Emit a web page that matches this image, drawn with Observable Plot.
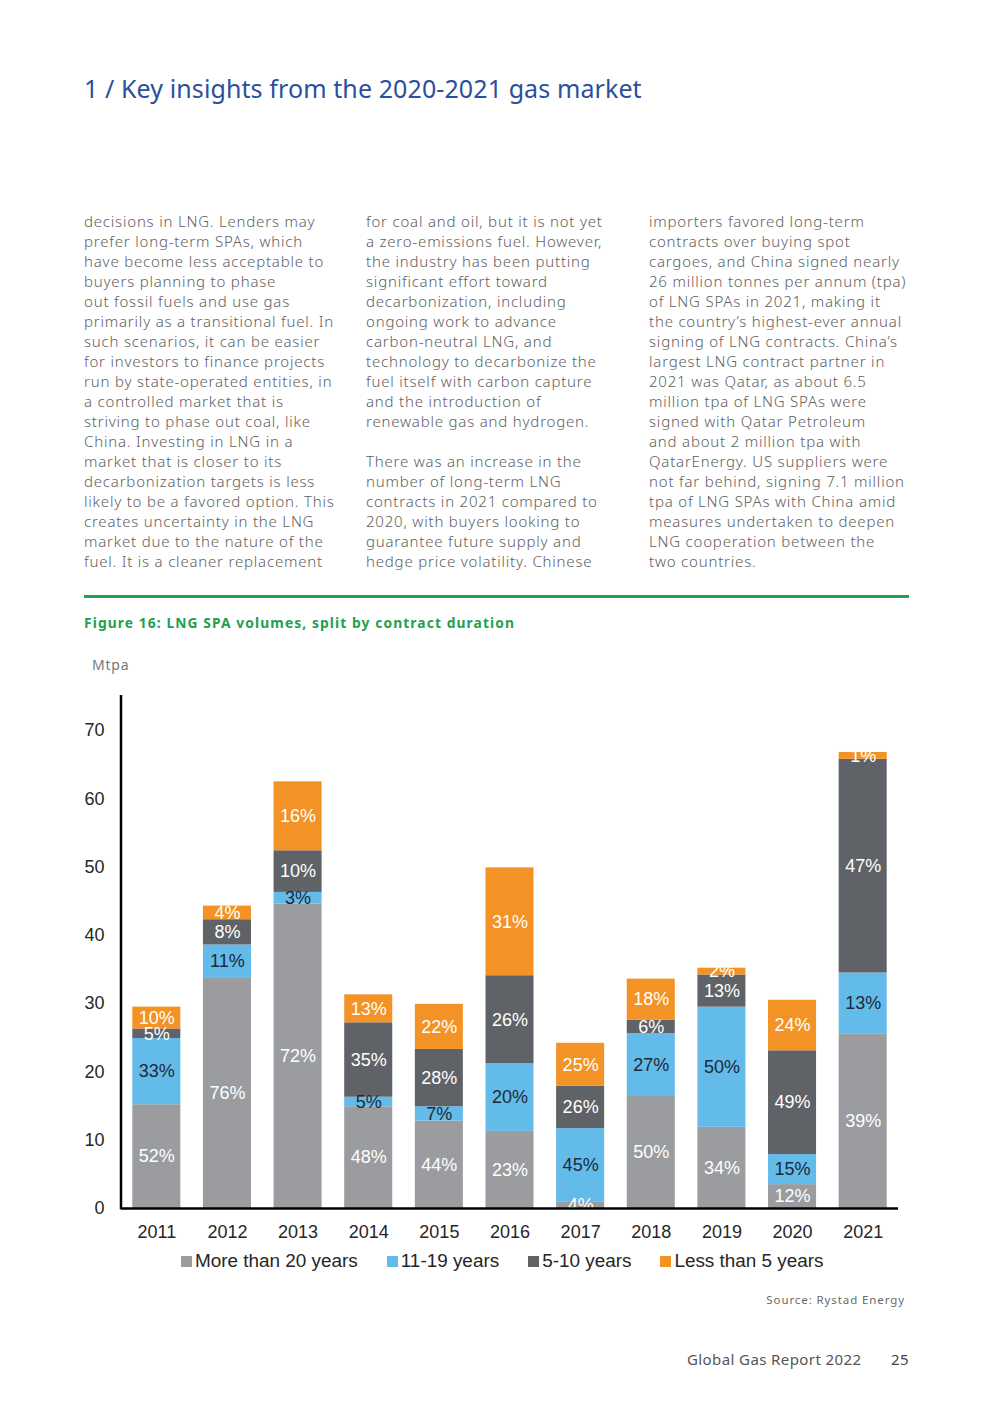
<!DOCTYPE html>
<html>
<head>
<meta charset="utf-8">
<script src="https://cdn.jsdelivr.net/npm/d3@7"></script>
<script src="https://cdn.jsdelivr.net/npm/@observablehq/plot@0.6"></script>
<style>
  html, body { margin: 0; padding: 0; background: #fff; }
  #page { position: relative; width: 987px; height: 1403px; overflow: hidden; background: #fff; }
  .abs { position: absolute; }
  #title { left: 84px; top: 73px; font-family: "Noto Sans", sans-serif; font-size: 25px; line-height: 30px; color: #2c4f9c; letter-spacing: 0.1px; white-space: nowrap; }
  .col { top: 211px; width: 275px; font-family: "Noto Sans", sans-serif; font-size: 15px; line-height: 20px; color: #616161; letter-spacing: 0.8px; white-space: pre; font-weight: 300; }
  #rule { left: 84px; top: 595px; width: 825px; height: 3px; background: #21a452; }
  #caption { left: 84px; top: 613px; font-family: "Noto Sans", sans-serif; font-weight: 700; font-size: 13.8px; line-height: 20px; color: #1f9f4f; letter-spacing: 1.1px; white-space: nowrap; }
  #unit { left: 92px; top: 656px; font-family: "Noto Sans", sans-serif; font-size: 14px; line-height: 18px; color: #777; letter-spacing: 0.8px; }
  #chart { left: 0; top: 680px; }
  #legend { left: 181px; top: 1249px; display: flex; gap: 29px; font-family: "Liberation Sans", Arial, sans-serif; font-size: 18.9px; line-height: 24px; color: #262626; white-space: nowrap; }
  #legend .item { display: flex; align-items: center; }
  #legend .sw { width: 11px; height: 11px; margin-right: 3px; }
  #source { right: 82px; top: 1292px; font-family: "Noto Sans", sans-serif; font-size: 11.5px; line-height: 16px; color: #6a6a6a; letter-spacing: 0.9px; }
  #footer { left: 687px; top: 1349px; font-family: "Noto Sans", sans-serif; font-size: 15px; line-height: 20px; color: #555; letter-spacing: 0.4px; white-space: nowrap; }
  #pageno { left: 891px; top: 1349px; font-family: "Noto Sans", sans-serif; font-size: 15px; line-height: 20px; color: #444; letter-spacing: 0.4px; }
</style>
</head>
<body>
<div id="page">
  <div id="title" class="abs">1 / Key insights from the 2020-2021 gas market</div>
  <div class="abs col" style="left:84px">decisions in LNG. Lenders may
prefer long-term SPAs, which
have become less acceptable to
buyers planning to phase
out fossil fuels and use gas
primarily as a transitional fuel. In
such scenarios, it can be easier
for investors to finance projects
run by state-operated entities, in
a controlled market that is
striving to phase out coal, like
China. Investing in LNG in a
market that is closer to its
decarbonization targets is less
likely to be a favored option. This
creates uncertainty in the LNG
market due to the nature of the
fuel. It is a cleaner replacement</div>
  <div class="abs col" style="left:366px">for coal and oil, but it is not yet
a zero-emissions fuel. However,
the industry has been putting
significant effort toward
decarbonization, including
ongoing work to advance
carbon-neutral LNG, and
technology to decarbonize the
fuel itself with carbon capture
and the introduction of
renewable gas and hydrogen.

There was an increase in the
number of long-term LNG
contracts in 2021 compared to
2020, with buyers looking to
guarantee future supply and
hedge price volatility. Chinese</div>
  <div class="abs col" style="left:649px">importers favored long-term
contracts over buying spot
cargoes, and China signed nearly
26 million tonnes per annum (tpa)
of LNG SPAs in 2021, making it
the country’s highest-ever annual
signing of LNG contracts. China’s
largest LNG contract partner in
2021 was Qatar, as about 6.5
million tpa of LNG SPAs were
signed with Qatar Petroleum
and about 2 million tpa with
QatarEnergy. US suppliers were
not far behind, signing 7.1 million
tpa of LNG SPAs with China amid
measures undertaken to deepen
LNG cooperation between the
two countries.</div>
  <div id="rule" class="abs"></div>
  <div id="caption" class="abs">Figure 16: LNG SPA volumes, split by contract duration</div>
  <div id="unit" class="abs">Mtpa</div>
  <div id="chart" class="abs"></div>
  <div id="legend" class="abs"></div>
  <div id="source" class="abs">Source: Rystad Energy</div>
  <div id="footer" class="abs">Global Gas Report 2022</div>
  <div id="pageno" class="abs">25</div>
</div>
<script>
// ---- data (Mtpa) ----
const years = ["2011","2012","2013","2014","2015","2016","2017","2018","2019","2020","2021"];
const series = ["More than 20 years","11-19 years","5-10 years","Less than 5 years"];
const colors = ["#9a9c9f","#63bbea","#5f6267","#f39325"];

const over20  = [15.2, 33.7, 44.6, 14.9, 12.8, 11.3,  0.9, 16.4, 11.9,  3.5, 25.6];
const y11to19 = [ 9.7,  4.9,  1.7,  1.4,  2.1,  9.9, 10.8,  9.2, 17.6,  4.4,  8.9];
const y5to10  = [ 1.4,  3.7,  6.1, 10.9,  8.4, 12.9,  6.2,  2.0,  4.7, 15.2, 31.3];
const under5  = [ 3.2,  2.0, 10.1,  4.1,  6.6, 15.8,  6.3,  6.0,  1.0,  7.4,  1.0];

const lblOver20  = ["52%","76%","72%","48%","44%","23%","4%","50%","34%","12%","39%"];
const lbl11to19  = ["33%","11%","3%","5%","7%","20%","45%","27%","50%","15%","13%"];
const lbl5to10   = ["5%","8%","10%","35%","28%","26%","26%","6%","13%","49%","47%"];
const lblUnder5  = ["10%","4%","16%","13%","22%","31%","25%","18%","2%","24%","1%"];

const yTicks = [0, 10, 20, 30, 40, 50, 60, 70];

// ---- table built from arrays ----
const values = [over20, y11to19, y5to10, under5];
const labels = [lblOver20, lbl11to19, lbl5to10, lblUnder5];
const data = years.flatMap((yr, i) => series.map((s, k) => ({
  year: yr, series: s, value: values[k][i], label: labels[k][i]
})));

const W = 987, H = 573;
const chart = Plot.plot({
  width: W,
  height: H,
  marginLeft: 121,
  marginRight: 89,
  marginTop: 16,
  marginBottom: 45,
  style: { fontFamily: "'Liberation Sans', Arial, sans-serif", fontSize: "18px", color: "#262626", background: "transparent", overflow: "visible" },
  x: { domain: years, paddingInner: 0.32, paddingOuter: 0.16, round: false, label: null },
  y: { domain: [0, 75], label: null },
  color: { domain: series, range: colors },
  marks: [
    Plot.barY(data, { x: "year", y: "value", fill: "series", z: "series" }),
    Plot.text(data, Plot.stackY({ x: "year", y: "value", z: "series",
      text: d => d.series === "11-19 years" ? "" : d.label, fill: "#ffffff", fontSize: 18 })),
    Plot.text(data, Plot.stackY({ x: "year", y: "value", z: "series",
      text: d => d.series === "11-19 years" ? d.label : "", fill: "#1d2a37", fontSize: 18 })),
    Plot.ruleY([0], { stroke: "#000", strokeWidth: 2.5 }),
    Plot.axisY({ ticks: yTicks, tickSize: 0, tickPadding: 17, label: null, fontSize: 18, fill: "#262626" }),
    Plot.axisX({ tickSize: 0, tickPadding: 17, label: null, fontSize: 18, fill: "#262626" })
  ]
});
document.getElementById("chart").appendChild(chart);

// y-axis line drawn from the chart's own scales
const xs = chart.scale("x"), ys = chart.scale("y");
const x0 = Math.min(...xs.range);
d3.select(chart).append("line")
  .attr("x1", x0).attr("x2", x0)
  .attr("y1", Math.min(...ys.range) - 1).attr("y2", Math.max(...ys.range) + 1.25)
  .attr("stroke", "#000").attr("stroke-width", 2.5);

// legend
const legend = d3.select("#legend");
series.forEach((s, k) => {
  const item = legend.append("div").attr("class", "item");
  item.append("div").attr("class", "sw").style("background", colors[k]);
  item.append("span").text(s);
});
</script>
</body>
</html>
